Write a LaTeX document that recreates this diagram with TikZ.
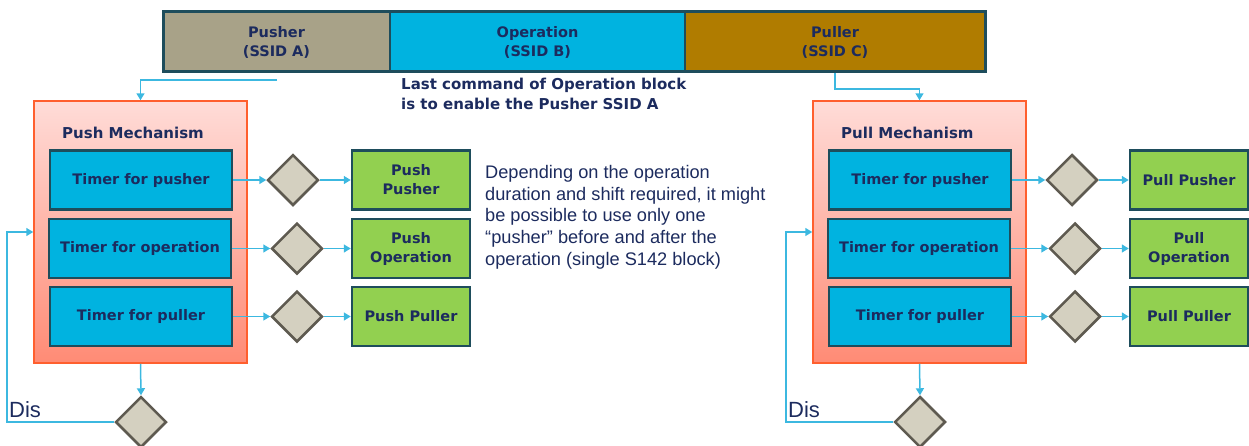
\documentclass[tikz,border=0pt]{standalone}
\usepackage{fontspec}
\setmainfont{DejaVu Sans}
\newfontfamily\descfont{Liberation Sans}
\usetikzlibrary{shapes.geometric,arrows.meta}

\definecolor{navy}{HTML}{1C2B5E}
\definecolor{tealedge}{HTML}{1E4D5C}
\definecolor{cyanfill}{HTML}{00B3E0}
\definecolor{khaki}{HTML}{A8A288}
\definecolor{gold}{HTML}{B07C00}
\definecolor{leaf}{HTML}{92D050}
\definecolor{stone}{HTML}{D4D0C0}
\definecolor{stoneedge}{HTML}{5E5A50}
\definecolor{wire}{HTML}{3CB8E0}
\definecolor{mechedge}{HTML}{FF5F2E}
\definecolor{mechtop}{HTML}{FFDCD8}
\definecolor{mechbot}{HTML}{FF8B75}

\tikzset{
  lbl/.style={font=\fontsize{14.5}{19}\selectfont\bfseries, text=navy, align=center},
  seg/.style={lbl, draw=tealedge, line width=1.5pt, minimum height=60, inner sep=0},
  timer/.style={lbl, draw=tealedge, line width=2.5pt, fill=cyanfill, minimum width=182, minimum height=59, inner sep=0},
  action/.style={lbl, draw=tealedge, line width=2.5pt, fill=leaf, minimum width=118, minimum height=59, inner sep=0},
  gate/.style={diamond, draw=stoneedge, line width=2.5pt, fill=stone, minimum width=51, minimum height=51, inner sep=0},
  mech/.style={draw=mechedge, line width=1.5pt, top color=mechtop, bottom color=mechbot, minimum width=213, minimum height=262, inner sep=0},
  flow/.style={draw=wire, line width=1.5pt, -{Triangle[width=8pt,length=7pt]}},
  dis/.style={text=navy, font=\descfont\fontsize{22}{22}\selectfont, anchor=south west, inner sep=0}
}

\begin{document}
\begin{tikzpicture}[x=1pt,y=-1pt]
        \useasboundingbox (0,0) rectangle (1249,445);
        % top bar
        \node[seg,fill=khaki,minimum width=227] (pusher) at (276.5,42) {Pusher\\(SSID A)};
        \node[seg,fill=cyanfill,minimum width=295] (operation) at (537.5,42) {Operation\\(SSID B)};
        \node[seg,fill=gold,minimum width=300] (puller) at (835,42) {Puller\\(SSID C)};
        \draw[tealedge,line width=3pt] (163,11) rectangle (985,71);
        \node[lbl,align=left,anchor=north west,inner sep=0,font=\fontsize{15}{20}\selectfont\bfseries] (lastcmd) at (401,78)
          {Last command of Operation block\\is to enable the Pusher SSID A};

        % push side
        \node[mech] (pushmech) at (140.5,232) {};
        \node[lbl,anchor=west,inner sep=0,font=\fontsize{15}{18}\selectfont\bfseries] (pushtitle) at (62,133) {Push Mechanism};
        \node[timer] (pushT1) at (141,180) {Timer for pusher};
        \node[timer] (pushT2) at (140,248.5) {Timer for operation};
        \node[timer] (pushT3) at (141,316.5) {Timer for puller};
        \node[gate] (pushG1) at (293,180) {};
        \node[gate] (pushG2) at (297,248.5) {};
        \node[gate] (pushG3) at (297,316.5) {};
        \node[action] (pushA1) at (411,180) {Push\\Pusher};
        \node[action] (pushA2) at (411,248.5) {Push\\Operation};
        \node[action] (pushA3) at (411,316.5) {Push Puller};
        \node[gate] (pushDis) at (141,422) {};
        \node[dis] (pushDisTxt) at (9,418) {Dis};

        % pull side
        \node[mech] (pullmech) at (919.5,232) {};
        \node[lbl,anchor=west,inner sep=0,font=\fontsize{15}{18}\selectfont\bfseries] (pulltitle) at (841,133) {Pull Mechanism};
        \node[timer] (pullT1) at (920,180) {Timer for pusher};
        \node[timer] (pullT2) at (919,248.5) {Timer for operation};
        \node[timer] (pullT3) at (920,316.5) {Timer for puller};
        \node[gate] (pullG1) at (1072,180) {};
        \node[gate] (pullG2) at (1075,248.5) {};
        \node[gate] (pullG3) at (1075,316.5) {};
        \node[action] (pullA1) at (1189,180) {Pull Pusher};
        \node[action] (pullA2) at (1189,248.5) {Pull\\Operation};
        \node[action] (pullA3) at (1189,316.5) {Pull Puller};
        \node[gate] (pullDis) at (920,422) {};
        \node[dis] (pullDisTxt) at (788,418) {Dis};

        \node[text=navy,font=\descfont\fontsize{18.2}{21.8}\selectfont,align=left,anchor=north west,inner sep=0] (note) at (485,165)
          {Depending on the operation\\duration and shift required, it might\\be possible to use only one\\“pusher” before and after the\\operation (single S142 block)};

        % connectors
        \coordinate (pushIn) at (277,80);
        \coordinate (pushLoop) at (7,422);
        \coordinate (pullLoop) at (786,422);
        \draw[flow] (pushIn) -| (pushmech.north);
        \draw[flow] (puller.south) -- ++(0,16) -| (pullmech.north);
        \foreach \s in {push,pull}{
          \foreach \i in {1,2,3}{
            \draw[flow] (\s T\i.east) -- (\s G\i.west);
            \draw[flow] (\s G\i.east) -- (\s A\i.west);
          }
          \draw[flow] (\s mech.south) -- (\s Dis.north);
          \draw[flow] (\s Dis.west) -- (\s Loop) |- (\s mech.west);
        }
      \end{tikzpicture}
\end{document}
